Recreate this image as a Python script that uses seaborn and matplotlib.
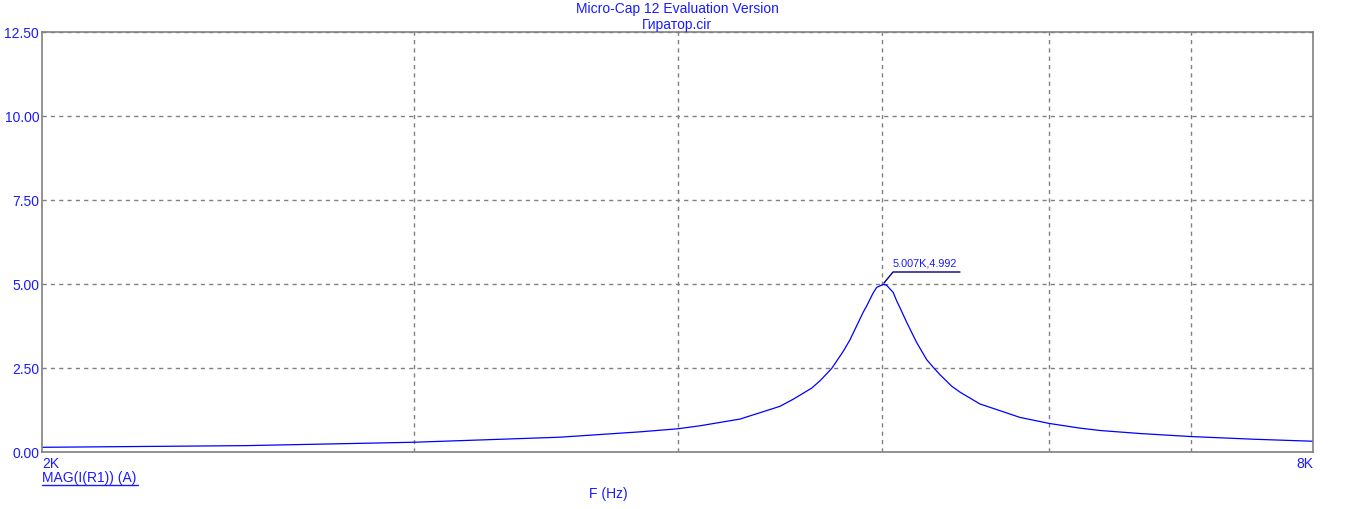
import numpy as np
import seaborn as sns
import matplotlib.pyplot as plt
from matplotlib.lines import Line2D
from matplotlib.ticker import FixedLocator, NullFormatter

# values (F in Hz, MAG(I(R1)) in A)
freq = [2000, 2500, 3000, 3518, 3840, 4000, 4099, 4282, 4377, 4473, 4538,
        4630, 4673, 4733, 4793, 4828, 4898, 4917, 4952, 4971, 5007, 5025,
        5061, 5080, 5098, 5136, 5192, 5249, 5287, 5326, 5394, 5444, 5563,
        5686, 5811, 6000, 6205, 6342, 6624, 7000, 7500, 8000]
mag = [0.14, 0.19, 0.29, 0.44, 0.60, 0.69, 0.78, 0.98, 1.17, 1.36, 1.57,
       1.90, 2.12, 2.49, 3.00, 3.34, 4.16, 4.35, 4.74, 4.90, 4.99, 4.96,
       4.75, 4.50, 4.30, 3.86, 3.26, 2.75, 2.52, 2.30, 1.96, 1.78, 1.43,
       1.23, 1.03, 0.85, 0.71, 0.64, 0.55, 0.46, 0.38, 0.32]

yticks = [0, 2.5, 5, 7.5, 10, 12.5]
xgrid = [3000, 4000, 5000, 6000, 7000]
xlabels = ['2K', '8K']
title1 = 'Micro-Cap 12 Evaluation Version'
title2 = 'Гиратор.cir'
peak_label = '5.007K,4.992'
peak = (5007, 4.992)

sns.set_style('white')
plt.rcParams['font.family'] = ['Liberation Sans', 'DejaVu Sans']

blue = '#1a1aff'
gray = '#808080'
fs = 10

fig = plt.figure(figsize=(13.45, 5.10), dpi=100)
ax = fig.add_axes([42/1345, 1-453/510, (1313-42)/1345, (453-33)/510])

sns.lineplot(x=freq, y=mag, ax=ax, color='#0000ff', linewidth=0.9)

ax.set_xscale('log')
ax.set_xlim(2000, 8000)
ax.set_ylim(0, 12.5)

ax.xaxis.set_major_locator(FixedLocator([2000, 8000]))
ax.xaxis.set_minor_locator(FixedLocator(xgrid))
ax.xaxis.set_minor_formatter(NullFormatter())
ax.set_xticklabels(xlabels)
lbls = ax.get_xticklabels()
lbls[0].set_ha('left')
lbls[1].set_ha('right')

ax.set_yticks(yticks)
ax.set_yticklabels(['%.2f' % v for v in yticks])

ax.tick_params(axis='both', which='both', length=0, labelsize=fs, colors=blue)
ax.tick_params(axis='x', pad=3)
ax.tick_params(axis='y', pad=2)

ax.grid(True, which='minor', axis='x', color=gray, linestyle=(0, (3, 3)), linewidth=1)
ax.grid(True, which='major', axis='y', color=gray, linestyle=(0, (3, 3)), linewidth=1)
ax.grid(False, which='major', axis='x')

for s in ax.spines.values():
    s.set_color(gray)
    s.set_linewidth(1.2)

ax.set_xlabel('')
ax.set_ylabel('')

# titles
fig.text(677/1345, 1-9/510, title1, ha='center', va='center', color=blue, fontsize=fs)
fig.text(677/1345, 1-25/510, title2, ha='center', va='center', color=blue, fontsize=fs)

# y label (underlined) and x label
fig.text(42/1345, 1-478/510, 'MAG(I(R1)) (A)', ha='left', va='center', color=blue, fontsize=fs)
fig.add_artist(Line2D([42/1345, 138/1345], [1-486/510, 1-486/510], color=blue, lw=1))
fig.text(608/1345, 1-494/510, 'F (Hz)', ha='center', va='center', color=blue, fontsize=fs)

# peak annotation
ax.annotate(peak_label, xy=peak, xytext=(893/1345, 1-268/510), textcoords='figure fraction',
            ha='left', va='bottom', color=blue, fontsize=7.8)
fig.add_artist(Line2D([884/1345, 893/1345, 960/1345],
                      [1-284/510, 1-273/510, 1-273/510], color='#000080', lw=1))

fig.savefig('out.png', dpi=100)
